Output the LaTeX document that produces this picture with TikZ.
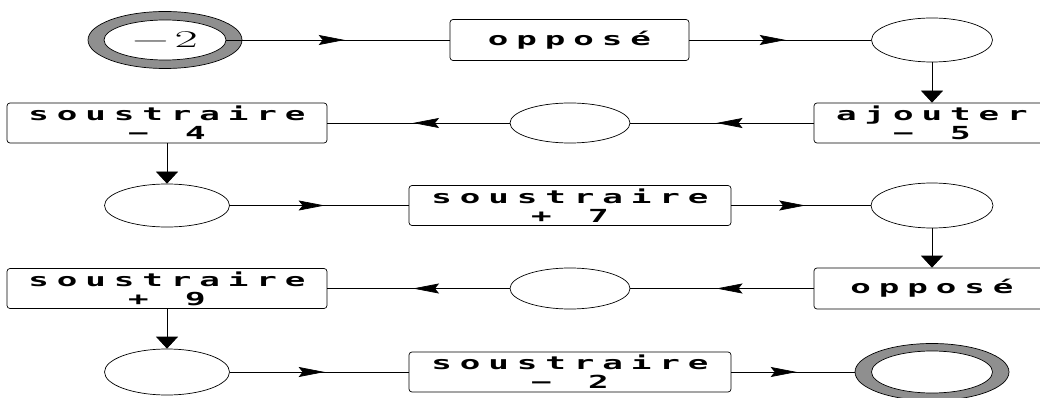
\documentclass[tikz,border=0pt]{standalone}
\usepackage{fontspec}
\usetikzlibrary{shapes.geometric,arrows.meta,decorations.markings}
% broad lettering for the boxes and for the start value
\newfontfamily\segfont[FakeStretch=1.9]{DejaVu Sans Mono Bold}
\newfontfamily\widemath[FakeStretch=2.1]{Latin Modern Roman}
\definecolor{ringgray}{gray}{0.56}

% evenly spaced lettering: every character sits in its own cell
\makeatletter
\newcommand\spaced[1]{\@tfor\sp@ch:=#1\do{\makebox[28.5pt][c]{\sp@ch}}}
\makeatother

\tikzset{
  lbl/.style={font=\segfont\fontsize{18}{19}\selectfont, align=center},
  box/.style={draw, rounded corners=3pt, inner sep=0pt, line width=0.7pt, lbl},
  oval/.style={draw, ellipse, inner sep=0pt, line width=0.7pt},
  ring/.style={oval, fill=ringgray, minimum width=154pt, minimum height=57pt},
  flow/.style={line width=0.7pt,
    decoration={markings, mark=at position 0.53 with {\arrow{Stealth[length=26pt,width=10pt,inset=4pt]}}},
    postaction={decorate}},
  down/.style={line width=0.7pt, -{Triangle[length=12pt,width=22pt]}},
}

\begin{document}
\begin{tikzpicture}[x=1pt,y=-1pt]
\useasboundingbox (0,0) rectangle (1040,398);

% row 1
\node[ring] (startring) at (165,40) {};
\node[oval, fill=white, minimum width=122pt, minimum height=40pt] (start) at (165,40)
  {\widemath\fontsize{24}{24}\selectfont −\hspace{6pt}2};
\node[box, minimum width=239pt, minimum height=41pt] (op1) at (569.5,40) {\spaced{opposé}};
\node[oval, minimum width=121pt, minimum height=44pt] (e1) at (932,40) {};

% row 2
\node[box, minimum width=236pt, minimum height=40pt] (aj) at (932,123) {\spaced{ajouter}\\\spaced{−{~}5}};
\node[oval, minimum width=120pt, minimum height=40pt] (e2) at (570,123) {};
\node[box, minimum width=320pt, minimum height=40pt] (s4) at (167,123) {\spaced{soustraire}\\\spaced{−{~}4}};

% row 3
\node[oval, minimum width=125pt, minimum height=43pt] (e3) at (167,205.5) {};
\node[box, minimum width=322pt, minimum height=40pt] (s7) at (570,205.5) {\spaced{soustraire}\\\spaced{+{~}7}};
\node[oval, minimum width=122pt, minimum height=45pt] (e4) at (932,205.5) {};

% row 4
\node[box, minimum width=236pt, minimum height=41pt] (op2) at (932,288.5) {\spaced{opposé}};
\node[oval, minimum width=120pt, minimum height=41pt] (e5) at (570,288.5) {};
\node[box, minimum width=320pt, minimum height=40pt] (s9) at (167,288.5) {\spaced{soustraire}\\\spaced{+{~}9}};

% row 5
\node[oval, minimum width=125pt, minimum height=46pt] (e6) at (167,372) {};
\node[box, minimum width=322pt, minimum height=40pt] (s2) at (570,372) {\spaced{soustraire}\\\spaced{−{~}2}};
\node[ring] (endring) at (932,372) {};
\node[oval, fill=white, minimum width=121pt, minimum height=42pt] (end) at (932,372) {};

% connectors
\draw[flow] (start) -- (op1);
\draw[flow] (op1) -- (e1);
\draw[down] (e1) -- (aj);
\draw[flow] (aj) -- (e2);
\draw[flow] (e2) -- (s4);
\draw[down] (s4) -- (e3);
\draw[flow] (e3) -- (s7);
\draw[flow] (s7) -- (e4);
\draw[down] (e4) -- (op2);
\draw[flow] (op2) -- (e5);
\draw[flow] (e5) -- (s9);
\draw[down] (s9) -- (e6);
\draw[flow] (e6) -- (s2);
\draw[flow] (s2) -- (endring);
\end{tikzpicture}
\end{document}
